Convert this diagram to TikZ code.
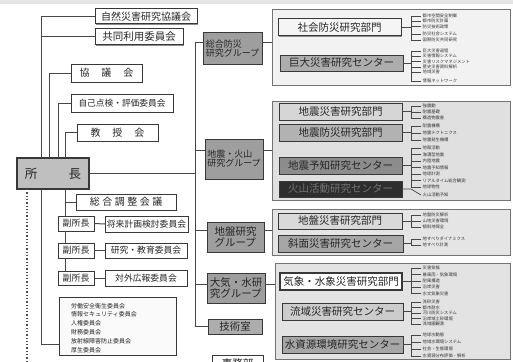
\documentclass[tikz,border=0pt]{standalone}
\usepackage{fontspec}
\setmainfont{Noto Sans CJK JP}
\usetikzlibrary{shadows}
\newcommand\fsz[1]{\fontsize{#1}{#1}\selectfont}
\tikzset{
  ln/.style={draw=black!72, line width=1pt},
  thin/.style={draw=black!72, line width=0.7pt},
  sz/.style 2 args={minimum width=#1pt, minimum height=#2pt},
  bx/.style={draw=black!78, line width=1pt, inner sep=0pt, outer sep=0pt, align=center, text=black!85, fill=white,
    drop shadow={shadow xshift=0.8pt, shadow yshift=-0.8pt, fill=black!45, opacity=1}},
  grp/.style={bx, fill=black!38, align=left, font=\fsz{9}},
  unit/.style={bx, sz={123}{17}, font=\fsz{10.5}},
  cont/.style={draw=black!55, line width=0.8pt, inner sep=0pt, outer sep=0pt,
    drop shadow={shadow xshift=0.8pt, shadow yshift=-0.8pt, fill=black!35, opacity=1}},
  item/.style={anchor=west, inner sep=0pt, inner xsep=1.5pt, font=\fsz{4.3}, text=black!80},
  sitem/.style={anchor=west, inner sep=0pt, font=\fsz{6}, text=black!85},
}
% #1 prefix, #2 unit node, #3 y of connection, #4 first y, #5 last y, #6 list y/text
\newcommand\bracketitems[6]{%
  \draw[thin] (#2.east) -- (411,#3);
  \draw[thin] (411,#4) -- (411,#5);
  \foreach \yy/\itx [count=\kk] in {#6} {
    \node[item] (#1\kk) at (421,\yy) {\itx};
    \draw[thin] (411,\yy) -- (#1\kk.west);
  }%
}
\begin{document}
\begin{tikzpicture}[x=1pt,y=-1pt]
\useasboundingbox (0,0) rectangle (513,361);
\clip (0,0) rectangle (513,361);
\fill[black!10] (0,0) rectangle (513,4);

% ---------- left column ----------
\node[bx, sz={102}{15}, font=\fsz{10}] (sizen) at (146,16.5) {自然災害研究協議会};
\node[bx, sz={88}{16}, font=\fsz{10.5}] (kyodo) at (139,37) {共同利用委員会};
\node[bx, sz={71}{18}, font=\fsz{10}] (kyogi) at (106.5,73) {協\hspace{1.2em}議\hspace{1.2em}会};
\node[bx, sz={102}{18}, font=\fsz{8.7}] (jiko) at (122,103) {自己点検・評価委員会};
\node[bx, sz={81}{17}, font=\fsz{10}] (kyoju) at (117.5,132.5) {教\hspace{1.2em}授\hspace{1.2em}会};
\node[bx, sz={72}{31}, fill=black!25, line width=1.8pt, font=\fsz{12.5}] (shocho) at (53,173.5) {所\hspace{2.5em}長};
\node[bx, sz={100}{16}, font=\fsz{10}] (sogo) at (126,202) {総\hspace{2.5pt}合\hspace{2.5pt}調\hspace{2.5pt}整\hspace{2.5pt}会\hspace{2.5pt}議};
\node[bx, sz={36}{15}, font=\fsz{9}] (fuku1) at (76,223.5) {副所長};
\node[bx, sz={83}{16}, font=\fsz{8.8}] (shorai) at (146.5,224) {将来計画検討委員会};
\node[bx, sz={36}{15}, font=\fsz{9}] (fuku2) at (76,250.5) {副所長};
\node[bx, sz={82}{15}, font=\fsz{8.8}] (kenkyu) at (146,250.5) {研究・教育委員会};
\node[bx, sz={36}{14}, font=\fsz{9}] (fuku3) at (76,278) {副所長};
\node[bx, sz={82}{16}, font=\fsz{8.8}] (taigai) at (146,278) {対外広報委員会};
\node[bx, sz={117}{58}, fill=black!2] (iinkai) at (117.5,326) {};
\foreach \yy/\itx [count=\kk] in {306/労働安全衛生委員会, 314.5/情報セキュリティ委員会, 323/人権委員会, 332.5/財務委員会, 341.5/放射線障害防止委員会, 350.5/厚生委員会}
  \node[sitem] (ii\kk) at (71,\yy) {\itx};

% left connectors
\coordinate (L1) at (41,16.5);
\draw[ln] (sizen.west) -- (L1) -- (L1 |- shocho.north);
\draw[ln] (kyodo.west) -- (kyodo.west -| L1);
\coordinate (L2) at (49,73);
\draw[ln] (kyogi.west) -- (L2) -- (L2 |- shocho.north);
\coordinate (L3) at (58,103);
\draw[ln] (jiko.west) -- (L3) -- (L3 |- shocho.north);
\coordinate (L4) at (65,132.5);
\draw[ln] (kyoju.west) -- (L4) -- (L4 |- shocho.north);
\draw[ln] (L4 |- shocho.south) -- (L4 |- fuku1.north);
\draw[ln] (sogo.west) -- (sogo.west -| L4);
\draw[ln] (L4 |- fuku1.south) -- (L4 |- fuku2.north);
\draw[ln] (L4 |- fuku2.south) -- (L4 |- fuku3.north);
\draw[ln] (fuku1.east) -- (shorai.west);
\draw[ln] (fuku2.east) -- (kenkyu.west);
\draw[ln] (fuku3.east) -- (taigai.west);
\coordinate (L1b) at (41,344);
\draw[ln] (L1b |- shocho.south) -- (L1b) -- (L1b -| iinkai.west);
\coordinate (dotend) at (27,361);
\draw[draw=black!70, line width=1.3pt, dotted] (dotend |- shocho.south) -- (dotend);

% ---------- containers ----------
\node[cont, fill=black!5, sz={238}{76}] (c1) at (391,47) {};
\node[cont, fill=black!12, sz={238}{99}] (c2) at (391,150.5) {};
\node[cont, fill=black!10, sz={238}{46}] (c3) at (391,232) {};
\node[cont, fill=black!11, sz={235}{96}] (c4) at (392.5,311) {};

% ---------- groups ----------
\node[grp, sz={59}{31}] (g1) at (232.5,48.5) {総合防災\\研究グループ};
\node[grp, sz={58}{40}] (g2) at (234,159) {地震・火山\\研究グループ};
\node[grp, sz={57}{30}, font=\fsz{10.5}] (g3) at (235.5,237) {地盤研究\\グループ};
\node[grp, sz={58}{30}, font=\fsz{10.5}] (g4) at (236,288) {大気・水研\\究グループ};
\node[bx, sz={54}{15}, fill=black!32, font=\fsz{10.5}] (gijutsu) at (235,326.5) {技術室};
\node[bx, sz={51}{18}, fill=white, font=\fsz{10.5}] (jimu) at (237.5,364) {事務部};

% right spine
\coordinate (R1) at (195,43);
\coordinate (R2) at (195,150);
\coordinate (R3) at (195,230);
\coordinate (R4) at (195,284);
\coordinate (R5) at (195,326.5);
\draw[ln] (R1) -- (R5);
\draw[ln] (shocho.east) -- (shocho.east -| R1);
\draw[ln] (R1) -- (g1.west |- R1);
\draw[ln] (g1.east |- R1) -- (c1.west |- R1);
\draw[ln] (R2) -- (g2.west |- R2);
\draw[ln] (g2.east |- R2) -- (c2.west |- R2);
\draw[ln] (R3) -- (g3.west |- R3);
\draw[ln] (g3.east |- R3) -- (c3.west |- R3);
\draw[ln] (R4) -- (g4.west |- R4);
\draw[ln] (g4.east |- R4) -- (c4.west |- R4);
\draw[ln] (R5) -- (gijutsu.west);

% ---------- units ----------
\node[unit, fill=black!4] (u1) at (339.5,27.5) {社会防災研究部門};
\node[unit, fill=black!32, sz={123}{16}] (u2) at (341.5,63) {巨大災害研究センター};
\node[unit, fill=black!16] (u3) at (340.5,111.5) {地震災害研究部門};
\node[unit, fill=black!30] (u4) at (340.5,132.5) {地震防災研究部門};
\node[unit, fill=black!45] (u5) at (340.5,165.5) {地震予知研究センター};
\node[unit, fill=black!82, text=black!55, sz={123}{16}] (u6) at (340.5,189) {火山活動研究センター};
\node[unit, fill=black!15, sz={124}{16}] (u7) at (340,221) {地盤災害研究部門};
\node[unit, fill=black!35, sz={125}{17}] (u8) at (340.5,243.5) {斜面災害研究センター};
\node[unit, fill=white, line width=1.4pt, sz={122}{17}] (u9) at (341,281.5) {気象・水象災害研究部門};
\node[unit, fill=black!20, sz={121}{17}] (u10) at (342.5,311.5) {流域災害研究センター};
\node[unit, fill=black!35, sz={121}{17}] (u11) at (342.5,344.5) {水資源環境研究センター};

% ---------- research fields ----------
\bracketitems{a}{u1}{27.5}{16}{40}{16/都市空間安全制御, 21/都市防災計画, 26.5/防災技術政策, 34/防災社会システム, 40/国際防災共同研究}
\bracketitems{b}{u2}{63}{51}{81}{51/巨大災害過程, 56/災害情報システム, 61.5/災害リスクマネジメント, 67/歴史災害資料解析, 72/地域災害, 81/情報ネットワーク}
\bracketitems{c}{u3}{111.5}{106}{118}{106/強震動, 112/耐震基礎, 118/構造物震害}
\bracketitems{d}{u4}{132.5}{126}{140}{126/耐震機構, 133/地震テクトニクス, 140/地震発生機構}
\bracketitems{e}{u5}{165.5}{148}{187}{148/地殻活動, 154.5/海溝型地震, 161/内陸地震, 167.5/地震予知情報, 174/地球計測, 180.5/リアルタイム総合観測, 187/地球物性}
\node[item] (f1) at (421,195) {火山活動予知};
\draw[thin] (u6.east) -- (411,189) -- (f1.west);
\bracketitems{g}{u7}{221}{215}{227}{215/地盤防災解析, 221/山地災害環境, 227/傾斜地保全}
\bracketitems{h}{u8}{243.5}{239}{245}{239/地すべりダイナミクス, 245/地すべり計測}
\bracketitems{i}{u9}{281.5}{268}{293.5}{268/災害気候, 274.5/暴風雨・気象環境, 281/耐風構造, 287/沿岸災害, 293.5/水文気象災害}
\bracketitems{j}{u10}{311.5}{302}{324}{302/流砂災害, 307.5/都市耐水, 313/河川防災システム, 318.5/沿岸域土砂環境, 324/流域圏観測}
\bracketitems{k}{u11}{344.5}{335}{356}{335/地球水動態, 342/地域水環境システム, 349/社会・生態環境, 356/水資源分布評価・解析}
\end{tikzpicture}
\end{document}
